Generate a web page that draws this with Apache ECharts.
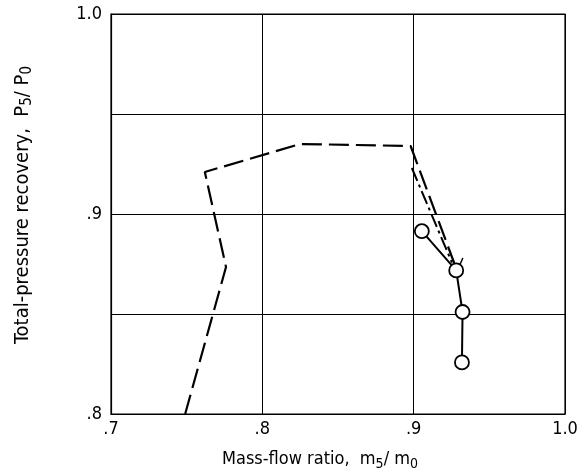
<!DOCTYPE html>
<html>
<head>
<meta charset="utf-8">
<script src="https://cdn.jsdelivr.net/npm/echarts@6/dist/echarts.min.js"></script>
<style>
  html, body { margin: 0; padding: 0; background: #fff; }
  #chart { width: 581px; height: 476px; }
</style>
</head>
<body>
<div id="chart"></div>
<script>
// values
var dashedX = [0.749, 0.776, 0.762, 0.825, 0.898, 0.9275];
var dashedY = [0.800, 0.8735, 0.921, 0.935, 0.934, 0.874];

var dashDotX = [0.8988, 0.9253];
var dashDotY = [0.923, 0.8757];

var tickX = [0.929, 0.9325];
var tickY = [0.872, 0.878];

var circleX = [0.9054, 0.9281, 0.9323, 0.9319];
var circleY = [0.8914, 0.8718, 0.851, 0.8258];

var font = 'DejaVu Sans Condensed, Liberation Sans Narrow, sans-serif';

function pairs(xs, ys) {
  return xs.map(function (x, i) { return [x, ys[i]]; });
}

function fmt(v) {
  var n = Math.round(v * 100);
  if (n === 100) return '1.0';
  if (n % 10 !== 0) return '';
  return '.' + (n / 10);
}

var chart = echarts.init(document.getElementById('chart'));

var option = {
  animation: false,
  backgroundColor: '#fff',
  grid: { left: 111, right: 16, top: 14, bottom: 61 },
  xAxis: {
    type: 'value',
    min: 0.7,
    max: 1.0,
    interval: 0.1,
    name: '{a|Mass-flow ratio,  m}{s|5}{a|/ m}{s|0}',
    nameLocation: 'middle',
    nameGap: 34,
    nameTextStyle: {
      padding: [0, 36, 0, 0],
      rich: {
        a: { fontFamily: font, fontSize: 18, color: '#000' },
        s: { fontFamily: font, fontSize: 14, color: '#000', padding: [9, 0, 0, 0] }
      }
    },
    axisLine: { lineStyle: { color: '#000', width: 1.2 } },
    axisTick: { show: false },
    axisLabel: { color: '#000', fontFamily: font, fontSize: 18, margin: 6, formatter: fmt },
    splitLine: { show: true, lineStyle: { color: '#000', width: 1 } }
  },
  yAxis: {
    type: 'value',
    min: 0.8,
    max: 1.0,
    interval: 0.05,
    name: '{a|Total-pressure recovery,  P}{s|5}{a|/ P}{s|0}',
    nameLocation: 'middle',
    nameGap: 76,
    nameTextStyle: {
      padding: [0, 0, 0, 18],
      rich: {
        a: { fontFamily: font, fontSize: 20, color: '#000' },
        s: { fontFamily: font, fontSize: 15, color: '#000', padding: [10, 0, 0, 0] }
      }
    },
    axisLine: { show: true, lineStyle: { color: '#000', width: 1.2 } },
    axisTick: { show: false },
    axisLabel: { color: '#000', fontFamily: font, fontSize: 18, margin: 9, formatter: fmt },
    splitLine: { show: true, lineStyle: { color: '#000', width: 1 } }
  },
  series: [
    {
      type: 'line',
      data: pairs(dashedX, dashedY),
      showSymbol: false,
      lineStyle: { color: '#000', width: 2.2, type: [20, 7] },
      z: 3
    },
    {
      type: 'line',
      data: pairs(dashDotX, dashDotY),
      showSymbol: false,
      lineStyle: { color: '#000', width: 2, type: [14, 4, 3, 4] },
      z: 3
    },
    {
      type: 'line',
      data: pairs(tickX, tickY),
      showSymbol: false,
      lineStyle: { color: '#000', width: 1.5 },
      z: 3
    },
    {
      type: 'line',
      data: pairs(circleX, circleY),
      symbol: 'circle',
      symbolSize: 14,
      itemStyle: { color: '#fff', borderColor: '#000', borderWidth: 1.8 },
      lineStyle: { color: '#000', width: 2 },
      z: 4
    }
  ]
};

chart.setOption(option);

// box around the plot
var p0 = chart.convertToPixel({ gridIndex: 0 }, [0.7, 1.0]);
var p1 = chart.convertToPixel({ gridIndex: 0 }, [1.0, 0.8]);
chart.setOption({
  graphic: [{
    type: 'rect',
    shape: { x: p0[0], y: p0[1], width: p1[0] - p0[0], height: p1[1] - p0[1] },
    style: { fill: 'none', stroke: '#000', lineWidth: 1.2 },
    silent: true
  }]
});
</script>
</body>
</html>
